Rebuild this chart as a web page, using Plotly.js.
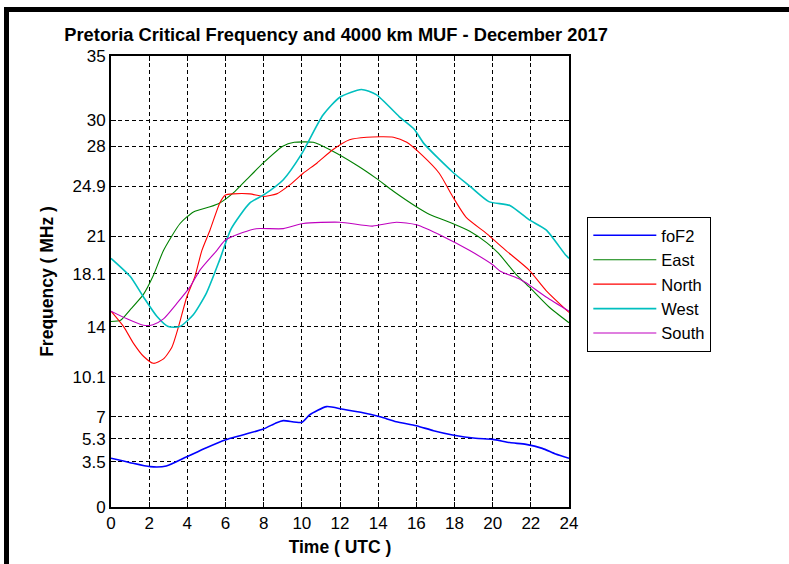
<!DOCTYPE html>
<html>
<head>
<meta charset="utf-8">
<script src="https://cdn.plot.ly/plotly-3.0.1.min.js"></script>
<style>
  html, body { margin: 0; padding: 0; background: #fff; }
  #wrap { position: relative; width: 789px; height: 564px; overflow: hidden; }
  #chart { position: absolute; left: 0; top: 0; width: 789px; height: 564px; }
  #frame { position: absolute; left: 4px; top: 7px; right: -10px; bottom: -10px;
           border-top: 5px solid #000; border-left: 5px solid #000; pointer-events: none; }
</style>
</head>
<body>
<div id="wrap"><div id="chart"></div><div id="frame"></div></div>
<script>
// foF2
const tFoF2 = [0, 1.0, 2.05, 2.9, 3.97, 5.0, 5.98, 6.9, 7.98, 8.68, 9.03, 10.0, 10.4, 11.3, 12.16, 13.2, 14.1, 14.95, 16.0, 16.9, 17.9, 19.1, 20.0, 20.9, 21.75, 22.6, 23.3, 24];
const vFoF2 = [3.78, 3.44, 3.13, 3.18, 3.9, 4.6, 5.2, 5.59, 6.05, 6.54, 6.7, 6.57, 7.14, 7.79, 7.58, 7.32, 7.0, 6.62, 6.31, 5.92, 5.59, 5.33, 5.25, 5.0, 4.86, 4.55, 4.11, 3.78];
// East
const tEast = [0, 0.5, 1.0, 1.7, 2.2, 2.75, 3.62, 4.32, 5.19, 5.7, 6.5, 7.1, 7.98, 9.0, 9.6, 10.6, 11.5, 12.9, 13.9, 14.8, 16.0, 16.7, 17.9, 18.8, 19.7, 20.3, 21.2, 21.9, 22.97, 24];
const vEast = [14.4, 14.5, 15.3, 16.5, 17.9, 19.9, 22.0, 22.9, 23.3, 23.6, 24.5, 25.4, 26.7, 28.0, 28.3, 28.3, 27.7, 26.5, 25.5, 24.5, 23.3, 22.7, 22.0, 21.4, 20.5, 19.7, 18.1, 17.1, 15.5, 14.3];
// North
const tNorth = [0, 0.66, 1.18, 1.7, 2.23, 2.75, 3.19, 3.54, 3.97, 4.4, 4.76, 5.19, 5.7, 5.98, 6.4, 7.28, 7.98, 8.68, 9.37, 10.07, 10.8, 11.6, 12.5, 13.4, 14.8, 15.5, 16.3, 17.2, 17.9, 18.6, 19.7, 20.7, 21.9, 22.8, 24];
const vNorth = [15.2, 14.0, 12.7, 11.7, 11.15, 11.5, 12.4, 14.0, 16.3, 17.9, 19.9, 21.5, 23.6, 24.2, 24.3, 24.3, 24.1, 24.3, 25.0, 25.9, 26.7, 27.7, 28.5, 28.7, 28.7, 28.3, 27.3, 25.9, 24.1, 22.5, 21.2, 19.9, 18.4, 16.8, 15.1];
// West
const tWest = [0, 1.0, 1.7, 2.4, 3.0, 3.6, 4.3, 5.0, 5.7, 6.3, 7.28, 7.98, 9.03, 9.99, 11.1, 11.99, 13.12, 13.9, 15.1, 15.9, 16.4, 17.9, 18.8, 19.8, 20.9, 21.9, 22.8, 23.8, 24];
const vWest = [19.3, 17.9, 16.3, 14.8, 14.0, 14.0, 14.9, 16.6, 19.2, 21.6, 23.6, 24.2, 25.4, 27.4, 30.4, 31.8, 32.4, 32.0, 30.3, 29.3, 28.2, 26.0, 24.9, 23.7, 23.4, 22.3, 21.5, 19.6, 19.3];
// South
const tSouth = [0, 0.84, 1.7, 2.2, 2.75, 3.45, 4.15, 4.67, 5.54, 5.98, 6.9, 7.6, 9.03, 10.07, 11.99, 13.7, 14.95, 16.0, 17.4, 18.8, 20.0, 20.4, 21.4, 21.75, 22.8, 24];
const vSouth = [15.2, 14.6, 14.1, 14.15, 14.6, 15.8, 17.1, 18.4, 19.9, 20.7, 21.3, 21.6, 21.6, 22.0, 22.1, 21.8, 22.1, 21.9, 21.0, 19.9, 18.8, 18.3, 17.7, 17.4, 16.3, 15.2];

const yTicks = [0, 3.5, 5.3, 7, 10.1, 14, 18.1, 21, 24.9, 28, 30, 35];
const yTickText = ['0', '3.5', '5.3', '7', '10.1', '14', '18.1', '21', '24.9', '28', '30', '35'];
const xTicks = [0, 2, 4, 6, 8, 10, 12, 14, 16, 18, 20, 22, 24];

const series = [
  {name: 'foF2', x: tFoF2, y: vFoF2, color: '#0000ff', w: 1.6},
  {name: 'East', x: tEast, y: vEast, color: '#008000', w: 1.1},
  {name: 'North', x: tNorth, y: vNorth, color: '#ff0000', w: 1.1},
  {name: 'West', x: tWest, y: vWest, color: '#00bfbf', w: 1.6},
  {name: 'South', x: tSouth, y: vSouth, color: '#bf00bf', w: 1.1}
];

const traces = series.map((s, i) => ({
  type: 'scatter', mode: 'lines', name: s.name, x: s.x, y: s.y,
  legendgroup: 'g' + i,
  line: {color: s.color, width: s.w, shape: 'spline', smoothing: 0.6}
}));

const font = {family: 'Liberation Sans, Arial, sans-serif', color: '#000'};

const layout = {
  width: 789, height: 564,
  margin: {l: 111, r: 220, t: 56, b: 57},
  paper_bgcolor: '#fff', plot_bgcolor: '#fff',
  showlegend: true,
  title: {text: '<b>Pretoria Critical Frequency and 4000 km MUF - December 2017</b>',
          font: Object.assign({}, font, {size: 18.3}), x: 0.426, xanchor: 'center', y: 0.938, yanchor: 'middle'},
  xaxis: {
    range: [0, 24], tickvals: xTicks, ticktext: xTicks.map(String),
    ticks: 'inside', ticklen: 5, tickcolor: '#000', tickwidth: 1,
    showline: true, linecolor: '#000', linewidth: 2, mirror: 'ticks',
    showgrid: true, gridcolor: '#000', gridwidth: 1, griddash: '4px,3px',
    zeroline: false,
    tickfont: Object.assign({}, font, {size: 17}),
    title: {text: '<b>Time ( UTC )</b>', font: Object.assign({}, font, {size: 17.5}), standoff: 8}
  },
  yaxis: {
    range: [0, 35], tickvals: yTicks, ticktext: yTickText,
    ticks: 'inside', ticklen: 5, tickcolor: '#000', tickwidth: 1,
    showline: true, linecolor: '#000', linewidth: 2, mirror: 'ticks',
    showgrid: true, gridcolor: '#000', gridwidth: 1, griddash: '4px,3px',
    zeroline: false,
    tickfont: Object.assign({}, font, {size: 17}),
    title: {text: '<b>Frequency ( MHz )</b>', font: Object.assign({}, font, {size: 17.5}), standoff: 14}
  },
  legend: {
    x: 1.04, xanchor: 'left', y: 0.643, yanchor: 'top',
    bgcolor: '#fff', bordercolor: '#000', borderwidth: 1,
    font: Object.assign({}, font, {size: 16.5}),
    itemwidth: 63, tracegroupgap: 0
  }
};

Plotly.newPlot('chart', traces, layout, {displayModeBar: false, staticPlot: true});
</script>
</body>
</html>
